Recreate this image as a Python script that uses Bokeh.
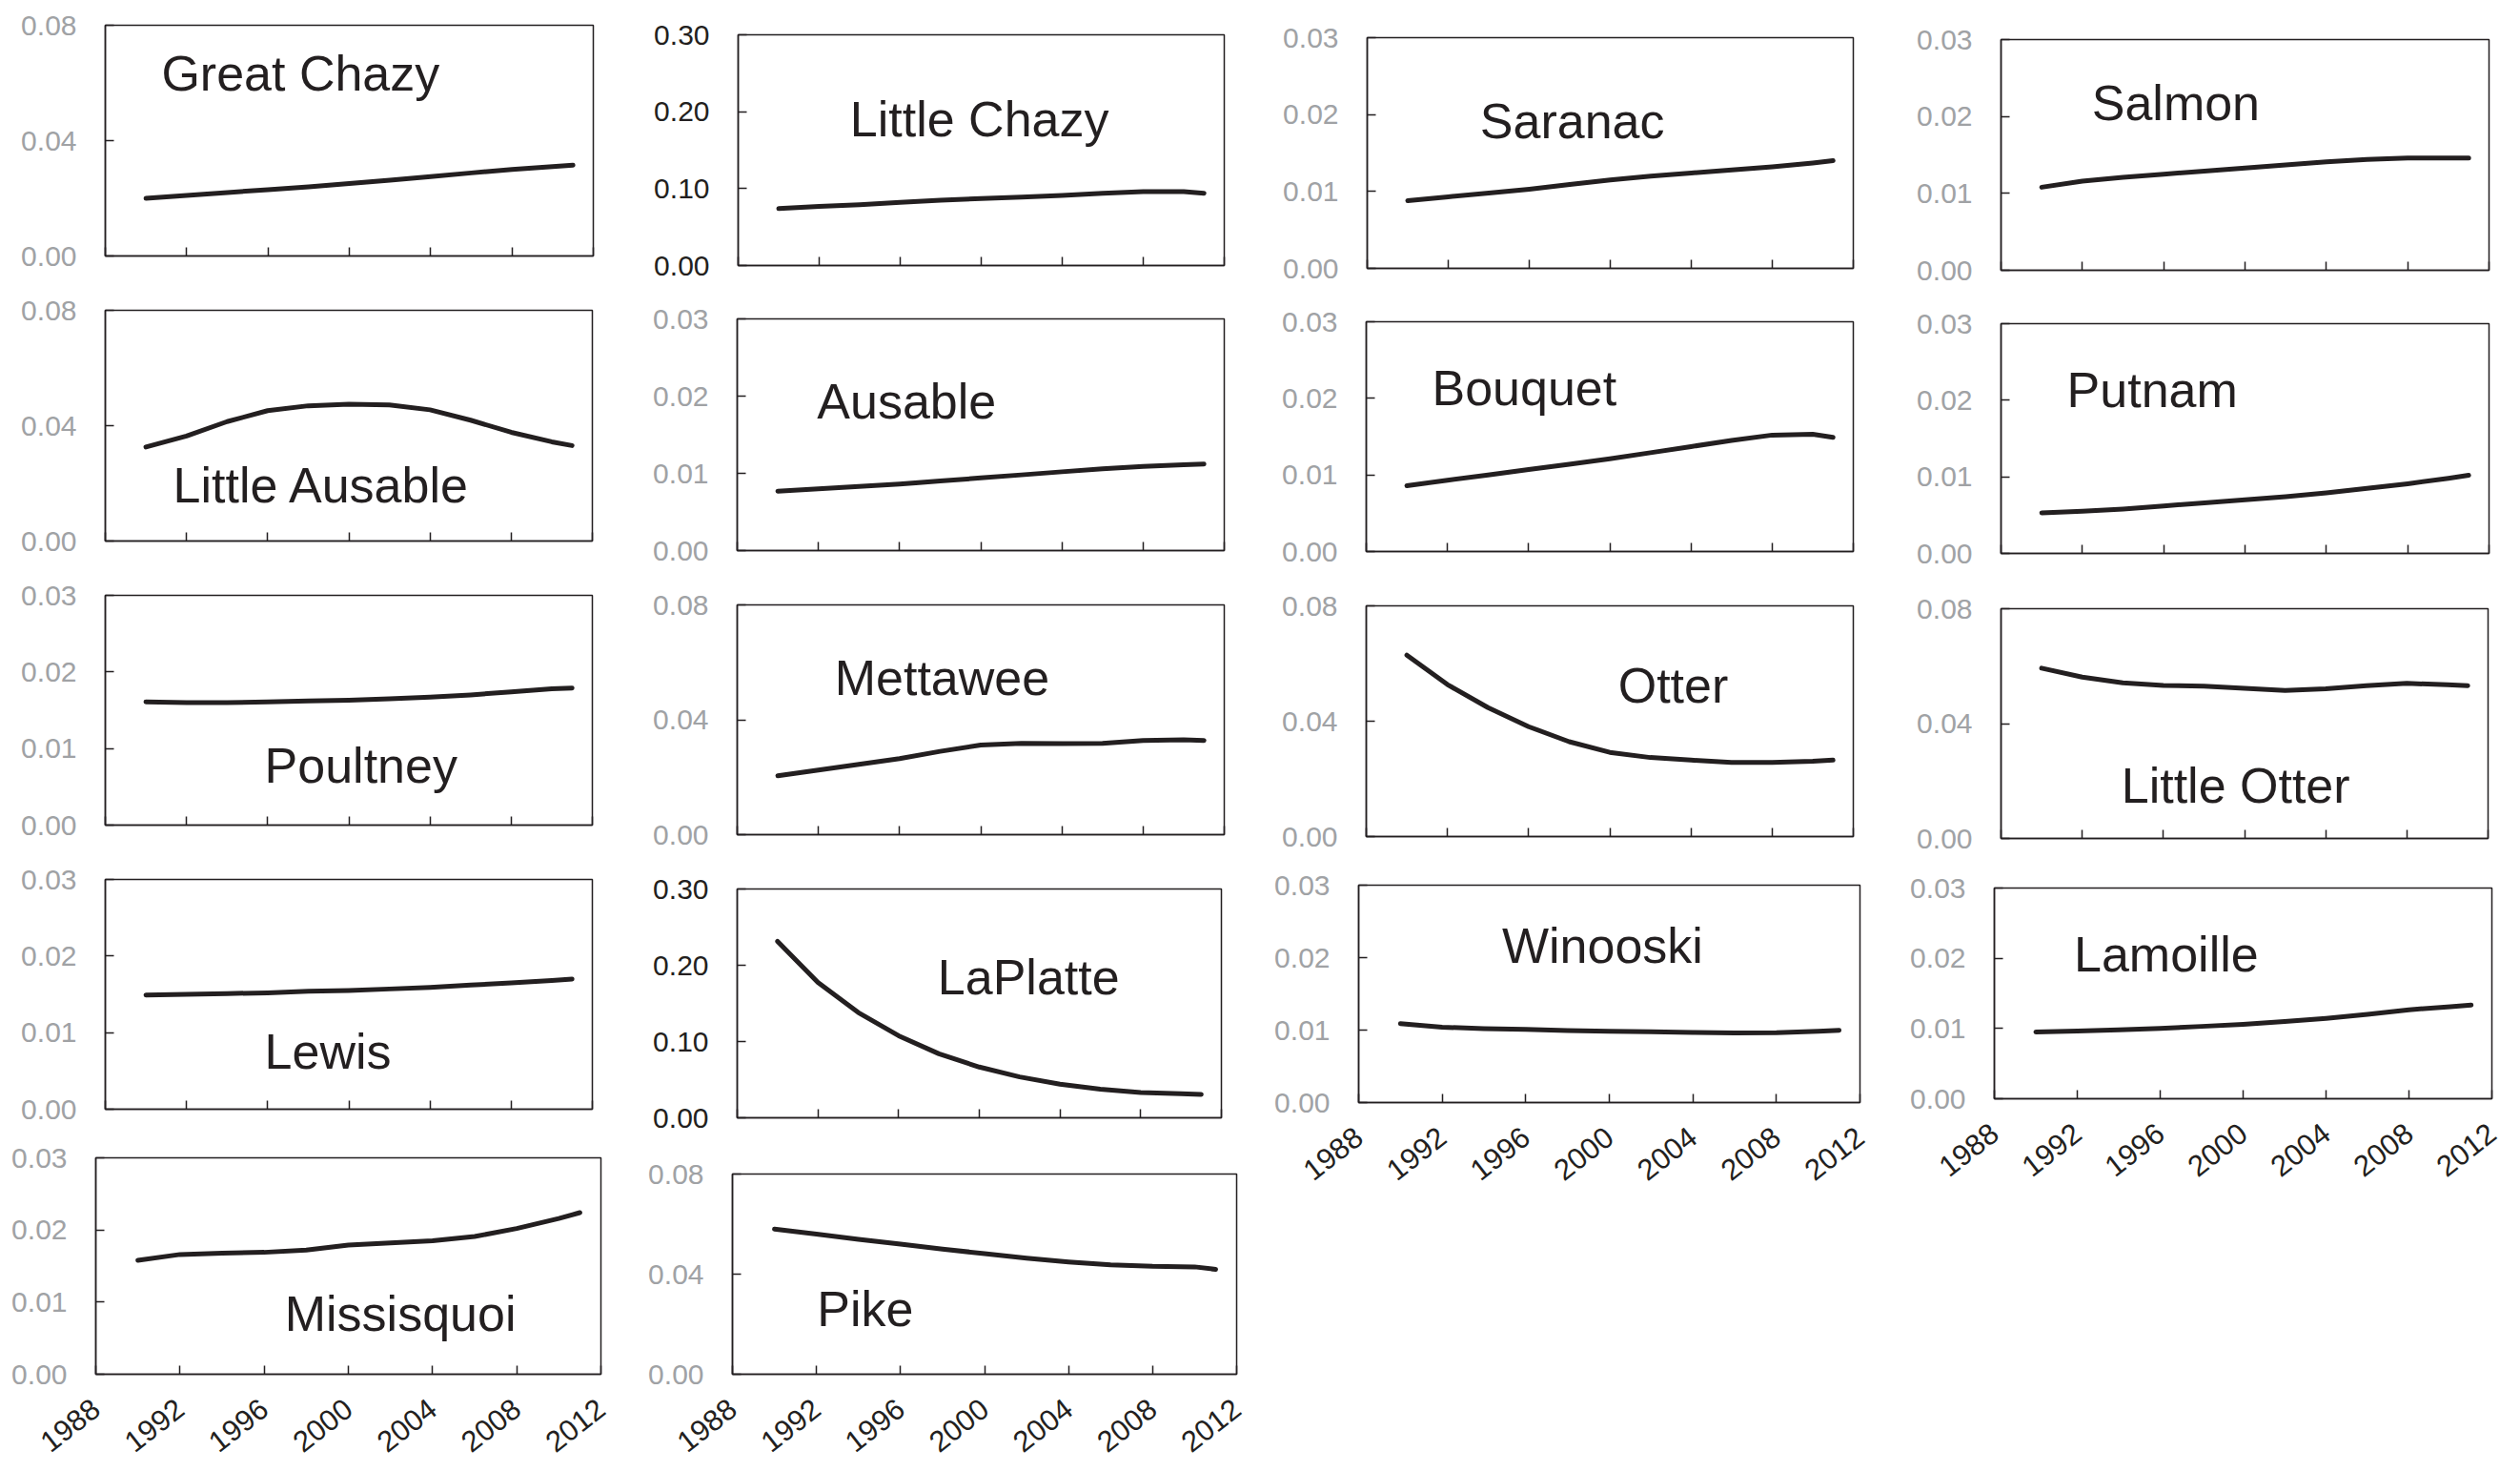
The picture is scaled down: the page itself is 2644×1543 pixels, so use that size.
import math
from bokeh.plotting import figure
from bokeh.layouts import row, column
from bokeh.models import Range1d, FixedTicker, PrintfTickFormatter, Label
from bokeh.embed import file_html
from bokeh.resources import INLINE

# ---------------- data ----------------
years = [1990, 1992, 1994, 1996, 1998, 2000, 2002, 2004, 2006, 2008, 2010, 2011]
x_ticks = [1988, 1992, 1996, 2000, 2004, 2008, 2012]
x_tick_labels = ["1988", "1992", "1996", "2000", "2004", "2008", "2012"]

yticks_008 = [0.0, 0.04, 0.08]
yticks_003 = [0.0, 0.01, 0.02, 0.03]
yticks_030 = [0.0, 0.10, 0.20, 0.30]

great_chazy    = [0.0200, 0.0210, 0.0220, 0.0230, 0.0240, 0.0251, 0.0263, 0.0275, 0.0288, 0.0300, 0.0310, 0.0315]
little_chazy   = [0.074, 0.077, 0.079, 0.082, 0.085, 0.087, 0.089, 0.091, 0.094, 0.096, 0.096, 0.094]
saranac        = [0.0088, 0.0093, 0.0098, 0.0103, 0.0109, 0.0115, 0.0120, 0.0124, 0.0128, 0.0132, 0.0137, 0.0140]
salmon         = [0.0108, 0.0116, 0.0121, 0.0125, 0.0129, 0.0133, 0.0137, 0.0141, 0.0144, 0.0146, 0.0146, 0.0146]
little_ausable = [0.0326, 0.0364, 0.0414, 0.0452, 0.0469, 0.0474, 0.0472, 0.0455, 0.0419, 0.0377, 0.0344, 0.0331]
ausable        = [0.0077, 0.0080, 0.0083, 0.0086, 0.0090, 0.0094, 0.0098, 0.0102, 0.0106, 0.0109, 0.0111, 0.0112]
bouquet        = [0.0086, 0.0093, 0.0100, 0.0107, 0.0114, 0.0121, 0.0129, 0.0137, 0.0145, 0.0152, 0.0153, 0.0149]
putnam         = [0.0053, 0.0055, 0.0058, 0.0062, 0.0066, 0.0070, 0.0074, 0.0079, 0.0085, 0.0091, 0.0098, 0.0102]
poultney       = [0.0161, 0.0160, 0.0160, 0.0161, 0.0162, 0.0163, 0.0165, 0.0167, 0.0170, 0.0174, 0.0178, 0.0179]
mettawee       = [0.0205, 0.0225, 0.0245, 0.0265, 0.0290, 0.0312, 0.0318, 0.0317, 0.0318, 0.0328, 0.0330, 0.0328]
otter          = [0.0629, 0.0527, 0.0447, 0.0381, 0.0329, 0.0292, 0.0274, 0.0265, 0.0257, 0.0257, 0.0261, 0.0265]
little_otter   = [0.0593, 0.0562, 0.0542, 0.0533, 0.0530, 0.0523, 0.0515, 0.0521, 0.0532, 0.0540, 0.0535, 0.0532]
lewis          = [0.0149, 0.0150, 0.0151, 0.0152, 0.0154, 0.0155, 0.0157, 0.0159, 0.0162, 0.0165, 0.0168, 0.0170]
laplatte       = [0.2314, 0.1774, 0.1380, 0.1076, 0.0839, 0.0665, 0.0536, 0.0440, 0.0374, 0.0332, 0.0316, 0.0307]
winooski       = [0.0109, 0.0104, 0.0102, 0.0101, 0.00994, 0.00985, 0.00977, 0.00968, 0.0096, 0.00964, 0.00985, 0.00998]
lamoille       = [0.0095, 0.00964, 0.0098, 0.0100, 0.0103, 0.0106, 0.0110, 0.01145, 0.0120, 0.01267, 0.0131, 0.01335]
missisquoi     = [0.0158, 0.0166, 0.0168, 0.0169, 0.0172, 0.0179, 0.0182, 0.0185, 0.0191, 0.0202, 0.0216, 0.0224]
pike           = [0.0580, 0.0560, 0.0539, 0.0520, 0.0500, 0.0482, 0.0464, 0.0449, 0.0437, 0.0431, 0.0429, 0.0419]

# ---------------- style / layout ----------------
INK = "#231f20"
GRAY = "#a0a2a5"
FONT = "Liberation Sans"

col_cells_x = [(0, 668), (668, 1322), (1322, 1990), (1990, 2636)]

# panel: (name, series, yticks, tick label color, frame (l,t,r,b) page px, title fx, title fy, show x labels, cell y)
columns_spec = [
    [  # column 1
        ("Great Chazy", great_chazy, yticks_008, GRAY, (110, 26, 622, 268), 0.115, 0.708, False, (0, 296)),
        ("Little Ausable", little_ausable, yticks_008, GRAY, (110, 325, 621, 567), 0.139, 0.159, False, (296, 595)),
        ("Poultney", poultney, yticks_003, GRAY, (110, 624, 621, 865), 0.327, 0.175, False, (595, 893)),
        ("Lewis", lewis, yticks_003, GRAY, (110, 922, 621, 1163), 0.327, 0.168, False, (893, 1188)),
        ("Missisquoi", missisquoi, yticks_003, GRAY, (100, 1214, 630, 1448), 0.374, 0.192, True, (1188, 1536)),
    ],
    [  # column 2
        ("Little Chazy", little_chazy, yticks_030, INK, (774, 36, 1284, 278), 0.230, 0.552, False, (0, 306)),
        ("Ausable", ausable, yticks_003, GRAY, (773, 334, 1284, 577), 0.164, 0.5625, False, (306, 605)),
        ("Mettawee", mettawee, yticks_008, GRAY, (773, 634, 1284, 875), 0.200, 0.601, False, (605, 903)),
        ("LaPlatte", laplatte, yticks_030, INK, (773, 932, 1281, 1172), 0.414, 0.533, False, (903, 1201)),
        ("Pike", pike, yticks_008, GRAY, (768, 1231, 1297, 1455), 0.168, 0.231, True, (1201, 1536)),
    ],
    [  # column 3
        ("Saranac", saranac, yticks_003, GRAY, (1434, 39, 1944, 281), 0.232, 0.555, False, (0, 309)),
        ("Bouquet", bouquet, yticks_003, GRAY, (1433, 337, 1944, 578), 0.135, 0.629, False, (309, 606)),
        ("Otter", otter, yticks_008, GRAY, (1433, 635, 1944, 877), 0.517, 0.573, False, (606, 902)),
        ("Winooski", winooski, yticks_003, GRAY, (1425, 928, 1951, 1156), 0.286, 0.632, True, (902, 1270)),
    ],
    [  # column 4
        ("Salmon", salmon, yticks_003, GRAY, (2099, 41, 2611, 283), 0.186, 0.642, False, (0, 311)),
        ("Putnam", putnam, yticks_003, GRAY, (2099, 339, 2611, 580), 0.135, 0.629, False, (311, 609)),
        ("Little Otter", little_otter, yticks_008, GRAY, (2099, 638, 2610, 879), 0.247, 0.148, False, (609, 905)),
        ("Lamoille", lamoille, yticks_003, GRAY, (2092, 931, 2614, 1152), 0.160, 0.596, True, (905, 1270)),
    ],
]

X0, X1 = x_ticks[0], x_ticks[-1]


def make_panel(name, series, yticks, lab_color, frame, fx, fy, show_x, cell_x, cell_y):
    cl, cr = cell_x
    ct, cb = cell_y
    fl, ft, fr, fb = frame
    ymax = yticks[-1]
    p = figure(width=cr - cl, height=cb - ct,
               x_range=Range1d(X0, X1), y_range=Range1d(0, ymax),
               output_backend="svg", toolbar_location=None, tools="",
               min_border_left=fl - cl, min_border_right=cr - fr,
               min_border_top=ft - ct, min_border_bottom=cb - fb)
    p.background_fill_color = "white"
    p.border_fill_color = "white"
    p.outline_line_color = INK
    p.outline_line_width = 1.5
    p.xgrid.visible = False
    p.ygrid.visible = False

    ya = p.yaxis[0]
    ya.ticker = FixedTicker(ticks=yticks)
    ya.formatter = PrintfTickFormatter(format="%.2f")
    ya.major_tick_in = 9
    ya.major_tick_out = 0
    ya.minor_tick_in = 0
    ya.minor_tick_out = 0
    ya.axis_line_color = INK
    ya.axis_line_width = 1.5
    ya.major_tick_line_color = INK
    ya.major_tick_line_width = 1.5
    ya.major_label_standoff = 30
    ya.major_label_text_font = FONT
    ya.major_label_text_font_size = "30px"
    ya.major_label_text_color = lab_color

    xa = p.xaxis[0]
    xa.ticker = FixedTicker(ticks=x_ticks)
    xa.major_tick_in = 9
    xa.major_tick_out = 0
    xa.minor_tick_in = 0
    xa.minor_tick_out = 0
    xa.axis_line_color = INK
    xa.axis_line_width = 1.5
    xa.major_tick_line_color = INK
    xa.major_tick_line_width = 1.5
    xa.major_label_text_font = FONT
    xa.major_label_text_font_size = "31px"
    xa.major_label_text_color = INK
    if show_x:
        xa.major_label_overrides = {t: s for t, s in zip(x_ticks, x_tick_labels)}
        xa.major_label_orientation = math.radians(38)
        xa.major_label_standoff = 32
    else:
        xa.major_label_overrides = {t: "" for t in x_ticks}
        xa.major_label_standoff = 0

    p.line(years, series, line_width=5, line_color=INK, line_cap="round", line_join="round")

    p.add_layout(Label(x=X0 + (X1 - X0) * fx, y=ymax * fy, text=name, y_offset=20,
                       text_font=FONT, text_font_size="52px", text_color=INK,
                       text_align="left", text_baseline="alphabetic"))
    return p


cols = []
for ci, spec in enumerate(columns_spec):
    cells = []
    for (name, series, yticks, lab_color, frame, fx, fy, show_x, cell_y) in spec:
        f = make_panel(name, series, yticks, lab_color, frame, fx, fy, show_x,
                       col_cells_x[ci], cell_y)
        cells.append(row(f, spacing=0))
    cols.append(column(*cells, spacing=0))

layout = row(*cols, spacing=0)

open("out.html", "w").write(file_html(layout, INLINE))
